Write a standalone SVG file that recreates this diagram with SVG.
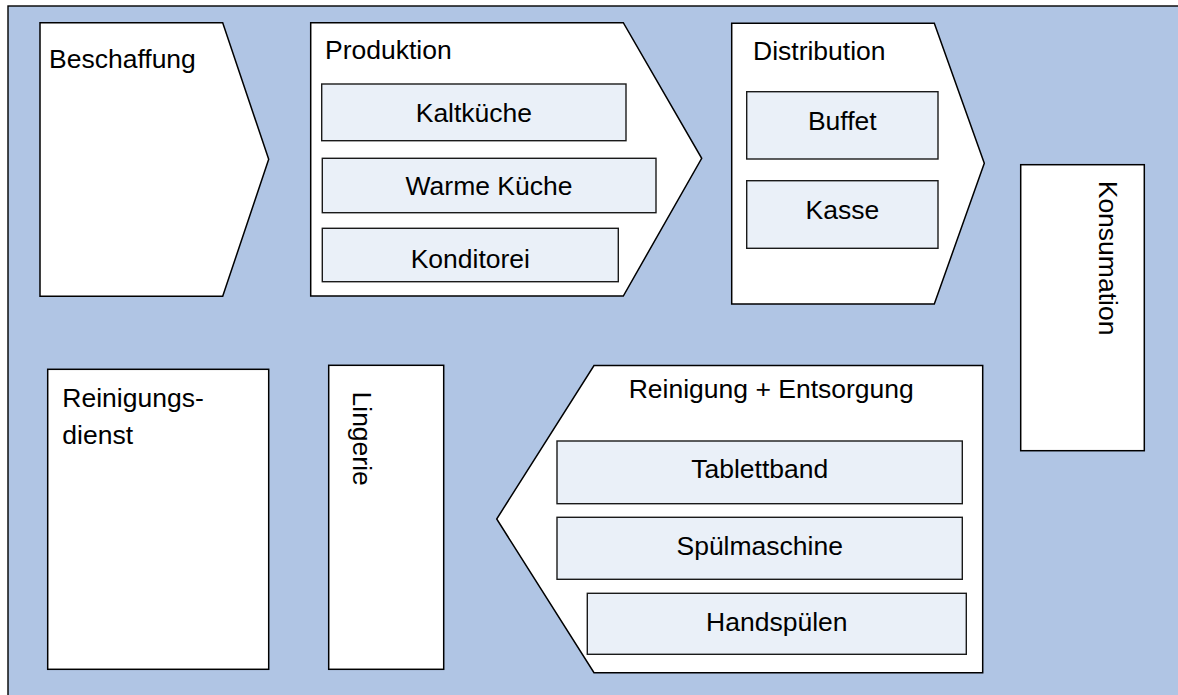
<svg xmlns="http://www.w3.org/2000/svg" width="1178" height="695" viewBox="0 0 1178 695">
  <style>
    .shape { fill: #ffffff; stroke: #000000; stroke-width: 1.5; stroke-linejoin: miter; }
    .sub { fill: #EAF0F8; stroke: #1a1a1a; stroke-width: 1.4; }
    .t { font-family: "Liberation Sans", Arial, sans-serif; font-size: 26.5px; fill: #000000; }
    .c { text-anchor: middle; }
  </style>
  <rect id="frame" x="8" y="6" width="1190" height="710" fill="#B0C5E4" stroke="#000000" stroke-width="1.4"/>

  <g id="beschaffung">
    <polygon class="shape" points="40,22.7 222.7,22.7 268.7,159.3 222.7,296.3 40,296.3"/>
    <text class="t" x="49" y="68">Beschaffung</text>
  </g>

  <g id="produktion">
    <polygon class="shape" points="310.7,22.7 623.3,22.7 701.7,158.3 623.3,296 310.7,296"/>
    <text class="t" x="325" y="59.3">Produktion</text>
    <g id="kaltkueche">
      <rect class="sub" x="321.7" y="84" width="304.3" height="56.7"/>
      <text class="t c" x="473.9" y="121.7">Kaltküche</text>
    </g>
    <g id="warme-kueche">
      <rect class="sub" x="322.3" y="158.3" width="333.7" height="54.4"/>
      <text class="t c" x="489" y="195">Warme Küche</text>
    </g>
    <g id="konditorei">
      <rect class="sub" x="322.3" y="228.3" width="296" height="53.4"/>
      <text class="t c" x="470.3" y="267.7">Konditorei</text>
    </g>
  </g>

  <g id="distribution">
    <polygon class="shape" points="731.7,23.3 934.3,23.3 984.3,163.3 934.3,304 731.7,304"/>
    <text class="t" x="753" y="60">Distribution</text>
    <g id="buffet">
      <rect class="sub" x="746.7" y="91.7" width="191.3" height="67.3"/>
      <text class="t c" x="842.3" y="129.8">Buffet</text>
    </g>
    <g id="kasse">
      <rect class="sub" x="746.7" y="180.7" width="191.3" height="67.6"/>
      <text class="t c" x="842.3" y="219">Kasse</text>
    </g>
  </g>

  <g id="konsumation">
    <rect class="shape" x="1020.7" y="164.7" width="123.6" height="286"/>
    <text class="t" transform="translate(1099,180.7) rotate(90)">Konsumation</text>
  </g>

  <g id="reinigungsdienst">
    <rect class="shape" x="47.7" y="369.3" width="221" height="300"/>
    <text class="t" x="62.3" y="406.7">Reinigungs-</text>
    <text class="t" x="62.3" y="444">dienst</text>
  </g>

  <g id="lingerie">
    <rect class="shape" x="328.7" y="365.3" width="115" height="304"/>
    <text class="t" transform="translate(353,391.5) rotate(90)">Lingerie</text>
  </g>

  <g id="reinigung-entsorgung">
    <polygon class="shape" points="594,365.5 982.7,365.5 982.7,672.7 594,672.7 496.7,519"/>
    <text class="t" x="628.7" y="397.7">Reinigung + Entsorgung</text>
    <g id="tablettband">
      <rect class="sub" x="557" y="441" width="405.3" height="62.7"/>
      <text class="t c" x="759.7" y="478.3">Tablettband</text>
    </g>
    <g id="spuelmaschine">
      <rect class="sub" x="557" y="517.3" width="405.3" height="62"/>
      <text class="t c" x="759.7" y="555">Spülmaschine</text>
    </g>
    <g id="handspuelen">
      <rect class="sub" x="587.3" y="593.3" width="379" height="61"/>
      <text class="t c" x="776.8" y="631">Handspülen</text>
    </g>
  </g>

  <g id="connectors"/>
</svg>
